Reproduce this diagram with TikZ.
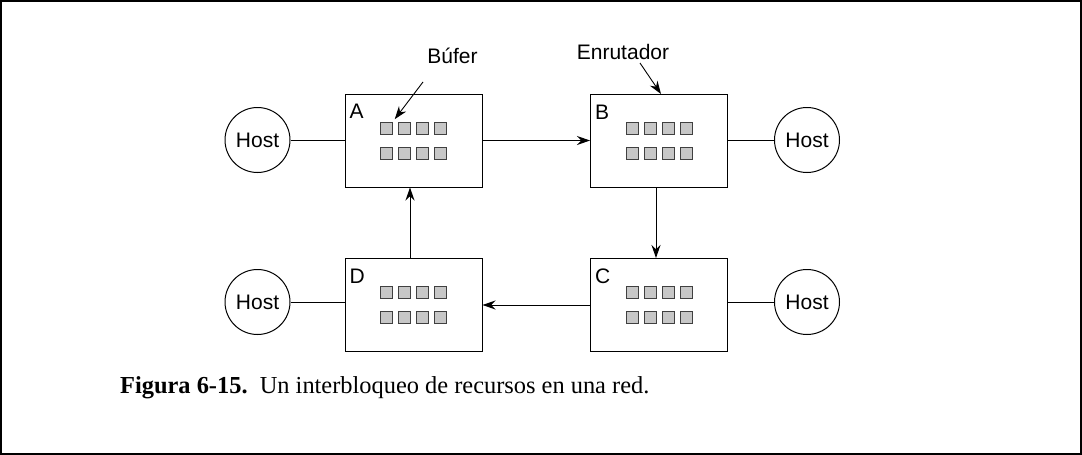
\documentclass[tikz,border=0pt]{standalone}
\usepackage{fontspec}
\setmainfont{Liberation Serif}
\setsansfont{Liberation Sans}
\usetikzlibrary{arrows.meta, positioning}

\begin{document}
\begin{tikzpicture}[
    x={(1pt,0)}, y={(0,-1pt)},
    router/.style={draw, line width=1pt, minimum width=137pt, minimum height=93pt, inner sep=0pt},
    host/.style={draw, circle, line width=1pt, minimum size=65pt, inner sep=0pt, font=\sffamily\fontsize{21}{25}\selectfont},
    buffer/.style={draw=black!75, fill=black!22, line width=0.8pt, minimum size=12pt, inner sep=0pt},
    tag/.style={anchor=base west, inner sep=0pt, font=\sffamily\fontsize{21}{25}\selectfont},
    link/.style={line width=1pt},
    flow/.style={-{Stealth[length=13pt, width=9pt]}, line width=1pt}
]
    \useasboundingbox (0,0) rectangle (1082,455);
    \draw[line width=2pt] (1,1) rectangle (1081,454);

    \node[router] (A) at (413.5,140.5) {};
    \node[router] (B) at (659,141) {};
    \node[router] (C) at (659,305) {};
    \node[router] (D) at (413.5,305) {};

    \foreach \r in {A,B,C,D} {
        \node[tag] at ([xshift=5pt, yshift=-25pt]\r.north west) {\r};
        \foreach \i/\dx in {1/-27, 2/-9, 3/9, 4/27} {
            \node[buffer] (\r-t\i) at ([xshift=\dx pt, yshift=12.5pt]\r.center) {};
            \node[buffer] (\r-b\i) at ([xshift=\dx pt, yshift=-12.5pt]\r.center) {};
        }
    }

    \node[host] (hostA) at (257.5,140) {Host};
    \node[host] (hostB) at (807,140) {Host};
    \node[host] (hostC) at (807,302) {Host};
    \node[host] (hostD) at (257.5,302) {Host};

    \draw[link] (hostA.east) -- (hostA.east -| A.west);
    \draw[link] (hostB.west) -- (hostB.west -| B.east);
    \draw[link] (hostC.west) -- (hostC.west -| C.east);
    \draw[link] (hostD.east) -- (hostD.east -| D.west);

    \draw[flow] (A.east) -- (A.east -| B.west);
    \draw[flow] ([xshift=-3pt]B.south) -- ([xshift=-3pt]C.north);
    \draw[flow] (C.west) -- (C.west -| D.east);
    \draw[flow] ([xshift=-3.5pt]D.north) -- ([xshift=-3.5pt]A.south);

    \node[tag, anchor=base] (bufLabel) at (452.5,63) {Búfer};
    \node[tag, anchor=base] (rtrLabel) at (623,59) {Enrutador};
    \coordinate (bufTail) at (423,82);
    \coordinate (rtrTail) at (640,63);
    \draw[flow, line width=0.9pt, shorten >=3pt] (bufTail) -- (A-t1.north east);
    \draw[flow, line width=0.9pt] (rtrTail) -- ([xshift=2pt]B.north);

    \node[anchor=base west, inner sep=0pt, font=\fontsize{24.4}{28}\selectfont] (caption) at (120,393)
        {\textbf{Figura 6-15.}\enspace Un interbloqueo de recursos en una red.};
\end{tikzpicture}
\end{document}
